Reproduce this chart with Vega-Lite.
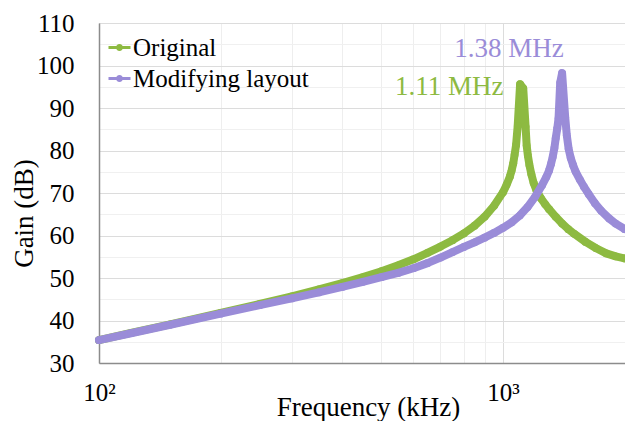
{
  "$schema": "https://vega.github.io/schema/vega-lite/v6.json",
  "width": 527,
  "height": 340,
  "autosize": {"type": "none"},
  "padding": {"left": 99, "top": 23, "right": 0, "bottom": 58},
  "background": "white",
  "datasets": {
    "curves": [
      {"series": "Original", "freq": 100, "gain": 35.4},
      {"series": "Original", "freq": 120, "gain": 37.1},
      {"series": "Original", "freq": 150, "gain": 39.1},
      {"series": "Original", "freq": 200, "gain": 41.8},
      {"series": "Original", "freq": 250, "gain": 43.9},
      {"series": "Original", "freq": 300, "gain": 45.7},
      {"series": "Original", "freq": 350, "gain": 47.3},
      {"series": "Original", "freq": 400, "gain": 48.8},
      {"series": "Original", "freq": 450, "gain": 50.2},
      {"series": "Original", "freq": 500, "gain": 51.6},
      {"series": "Original", "freq": 550, "gain": 53.0},
      {"series": "Original", "freq": 600, "gain": 54.4},
      {"series": "Original", "freq": 650, "gain": 55.9},
      {"series": "Original", "freq": 700, "gain": 57.4},
      {"series": "Original", "freq": 750, "gain": 58.9},
      {"series": "Original", "freq": 800, "gain": 60.5},
      {"series": "Original", "freq": 850, "gain": 62.3},
      {"series": "Original", "freq": 900, "gain": 64.4},
      {"series": "Original", "freq": 950, "gain": 67.0},
      {"series": "Original", "freq": 1000, "gain": 70.2},
      {"series": "Original", "freq": 1020, "gain": 71.9},
      {"series": "Original", "freq": 1040, "gain": 73.9},
      {"series": "Original", "freq": 1050, "gain": 75.3},
      {"series": "Original", "freq": 1060, "gain": 77.0},
      {"series": "Original", "freq": 1068, "gain": 79.0},
      {"series": "Original", "freq": 1077, "gain": 81.3},
      {"series": "Original", "freq": 1087, "gain": 85.8},
      {"series": "Original", "freq": 1102, "gain": 95.6},
      {"series": "Original", "freq": 1122, "gain": 94.6},
      {"series": "Original", "freq": 1137, "gain": 85.6},
      {"series": "Original", "freq": 1144, "gain": 81.2},
      {"series": "Original", "freq": 1152, "gain": 78.8},
      {"series": "Original", "freq": 1162, "gain": 76.6},
      {"series": "Original", "freq": 1175, "gain": 74.4},
      {"series": "Original", "freq": 1190, "gain": 72.4},
      {"series": "Original", "freq": 1210, "gain": 70.6},
      {"series": "Original", "freq": 1240, "gain": 68.8},
      {"series": "Original", "freq": 1270, "gain": 67.4},
      {"series": "Original", "freq": 1300, "gain": 66.2},
      {"series": "Original", "freq": 1350, "gain": 64.4},
      {"series": "Original", "freq": 1400, "gain": 62.8},
      {"series": "Original", "freq": 1450, "gain": 61.5},
      {"series": "Original", "freq": 1500, "gain": 60.4},
      {"series": "Original", "freq": 1600, "gain": 58.5},
      {"series": "Original", "freq": 1700, "gain": 57.0},
      {"series": "Original", "freq": 1800, "gain": 55.8},
      {"series": "Original", "freq": 1900, "gain": 55.1},
      {"series": "Original", "freq": 2000, "gain": 54.6},
      {"series": "Modifying layout", "freq": 100, "gain": 35.4},
      {"series": "Modifying layout", "freq": 120, "gain": 37.0},
      {"series": "Modifying layout", "freq": 150, "gain": 39.0},
      {"series": "Modifying layout", "freq": 200, "gain": 41.6},
      {"series": "Modifying layout", "freq": 250, "gain": 43.6},
      {"series": "Modifying layout", "freq": 300, "gain": 45.2},
      {"series": "Modifying layout", "freq": 350, "gain": 46.6},
      {"series": "Modifying layout", "freq": 400, "gain": 47.9},
      {"series": "Modifying layout", "freq": 450, "gain": 49.1},
      {"series": "Modifying layout", "freq": 500, "gain": 50.2},
      {"series": "Modifying layout", "freq": 550, "gain": 51.2},
      {"series": "Modifying layout", "freq": 600, "gain": 52.3},
      {"series": "Modifying layout", "freq": 650, "gain": 53.5},
      {"series": "Modifying layout", "freq": 700, "gain": 54.8},
      {"series": "Modifying layout", "freq": 750, "gain": 56.1},
      {"series": "Modifying layout", "freq": 800, "gain": 57.3},
      {"series": "Modifying layout", "freq": 850, "gain": 58.4},
      {"series": "Modifying layout", "freq": 900, "gain": 59.5},
      {"series": "Modifying layout", "freq": 950, "gain": 60.6},
      {"series": "Modifying layout", "freq": 1000, "gain": 61.8},
      {"series": "Modifying layout", "freq": 1050, "gain": 63.1},
      {"series": "Modifying layout", "freq": 1100, "gain": 64.7},
      {"series": "Modifying layout", "freq": 1150, "gain": 66.7},
      {"series": "Modifying layout", "freq": 1200, "gain": 69.1},
      {"series": "Modifying layout", "freq": 1250, "gain": 71.9},
      {"series": "Modifying layout", "freq": 1280, "gain": 73.8},
      {"series": "Modifying layout", "freq": 1300, "gain": 75.3},
      {"series": "Modifying layout", "freq": 1315, "gain": 76.9},
      {"series": "Modifying layout", "freq": 1327, "gain": 78.5},
      {"series": "Modifying layout", "freq": 1340, "gain": 80.6},
      {"series": "Modifying layout", "freq": 1350, "gain": 82.9},
      {"series": "Modifying layout", "freq": 1362, "gain": 85.2},
      {"series": "Modifying layout", "freq": 1372, "gain": 87.6},
      {"series": "Modifying layout", "freq": 1385, "gain": 96.0},
      {"series": "Modifying layout", "freq": 1400, "gain": 98.2},
      {"series": "Modifying layout", "freq": 1425, "gain": 87.8},
      {"series": "Modifying layout", "freq": 1438, "gain": 83.6},
      {"series": "Modifying layout", "freq": 1453, "gain": 80.4},
      {"series": "Modifying layout", "freq": 1470, "gain": 78.3},
      {"series": "Modifying layout", "freq": 1490, "gain": 76.6},
      {"series": "Modifying layout", "freq": 1511, "gain": 75.1},
      {"series": "Modifying layout", "freq": 1550, "gain": 73.1},
      {"series": "Modifying layout", "freq": 1585, "gain": 71.5},
      {"series": "Modifying layout", "freq": 1630, "gain": 69.7},
      {"series": "Modifying layout", "freq": 1688, "gain": 67.6},
      {"series": "Modifying layout", "freq": 1750, "gain": 65.8},
      {"series": "Modifying layout", "freq": 1831, "gain": 64.0},
      {"series": "Modifying layout", "freq": 1900, "gain": 62.8},
      {"series": "Modifying layout", "freq": 2000, "gain": 61.5}
    ],
    "notes": [
      {"series": "Original", "label": "1.11 MHz", "freq": 736, "gain": 93.1},
      {"series": "Modifying layout", "label": "1.38 MHz", "freq": 1035, "gain": 102.0}
    ]
  },
  "encoding": {
    "x": {
      "field": "freq", "type": "quantitative",
      "scale": {"type": "log", "domain": [100, 2015], "nice": false},
      "axis": {
        "title": "Frequency (kHz)",
        "values": [100, 200, 300, 400, 500, 600, 700, 800, 900, 1000, 2000],
        "labelExpr": "datum.value == 100 ? '10²' : (datum.value == 1000 ? '10³' : '')",
        "gridColor": {"condition": {"test": "datum.value == 1000", "value": "#dcdcdc"}, "value": "#eeeeee"},
        "labelPadding": 17,
        "titleX": 269, "titleY": 52, "titleBaseline": "alphabetic", "titleAlign": "center"
      }
    },
    "y": {
      "field": "gain", "type": "quantitative",
      "scale": {"domain": [30, 110], "nice": false, "zero": false},
      "axis": {
        "title": "Gain (dB)",
        "values": [30, 35, 40, 45, 50, 55, 60, 65, 70, 75, 80, 85, 90, 95, 100, 105, 110],
        "labelExpr": "datum.value % 10 == 0 ? datum.label : ''",
        "gridColor": {"condition": {"test": "datum.value % 10 == 0", "value": "#dcdcdc"}, "value": "#f0f0f0"},
        "labelPadding": 25,
        "titleX": -75, "titleY": 190, "titleBaseline": "middle", "titleAlign": "center"
      }
    },
    "color": {
      "field": "series", "type": "nominal",
      "scale": {"domain": ["Original", "Modifying layout"], "range": ["#8DBA41", "#9A8CD8"]},
      "legend": {
        "orient": "none", "legendX": 8, "legendY": 12,
        "title": null, "padding": 0,
        "labelFont": "Liberation Serif", "labelFontSize": 25, "labelColor": "#000000", "labelLimit": 400,
        "symbolType": "M -1 -0.14 L 1 -0.14 L 1 0.14 L -1 0.14 Z M -0.32 0 A 0.32 0.32 0 1 1 0.32 0 A 0.32 0.32 0 1 1 -0.32 0 Z",
        "symbolSize": 484, "symbolStrokeWidth": 0, "symbolOpacity": 1,
        "labelOffset": 1, "rowPadding": 5
      }
    }
  },
  "layer": [
    {
      "data": {"name": "curves"},
      "transform": [{"filter": "datum.series == 'Original'"}],
      "mark": {"type": "line", "strokeWidth": 8, "strokeJoin": "round", "strokeCap": "round"}
    },
    {
      "data": {"name": "curves"},
      "transform": [{"filter": "datum.series == 'Original'"}],
      "mark": {"type": "point", "filled": true, "size": 60, "opacity": 1}
    },
    {
      "data": {"name": "curves"},
      "transform": [{"filter": "datum.series == 'Modifying layout'"}],
      "mark": {"type": "line", "strokeWidth": 8, "strokeJoin": "round", "strokeCap": "round"}
    },
    {
      "data": {"name": "curves"},
      "transform": [{"filter": "datum.series == 'Modifying layout'"}],
      "mark": {"type": "point", "filled": true, "size": 60, "opacity": 1}
    },
    {
      "data": {"name": "notes"},
      "mark": {"type": "text", "fontSize": 27, "align": "center", "baseline": "alphabetic", "font": "Liberation Serif"},
      "encoding": {
        "text": {"field": "label"}
      }
    }
  ],
  "config": {
    "font": "Liberation Serif",
    "view": {"stroke": "#9a9a9a", "strokeWidth": 1},
    "axis": {
      "domainColor": "#8c8c8c", "domainWidth": 1.5,
      "ticks": false, "tickSize": 0,
      "labelFont": "Liberation Serif", "labelFontSize": 25, "labelColor": "#000000",
      "titleFont": "Liberation Serif", "titleFontSize": 27, "titleFontWeight": "normal", "titleColor": "#000000",
      "grid": true, "gridWidth": 1,
      "labelOverlap": false, "labelBound": false, "labelFlush": false
    },
    "axisY": {"labelBaseline": "middle", "labelAlign": "right"}
  }
}
